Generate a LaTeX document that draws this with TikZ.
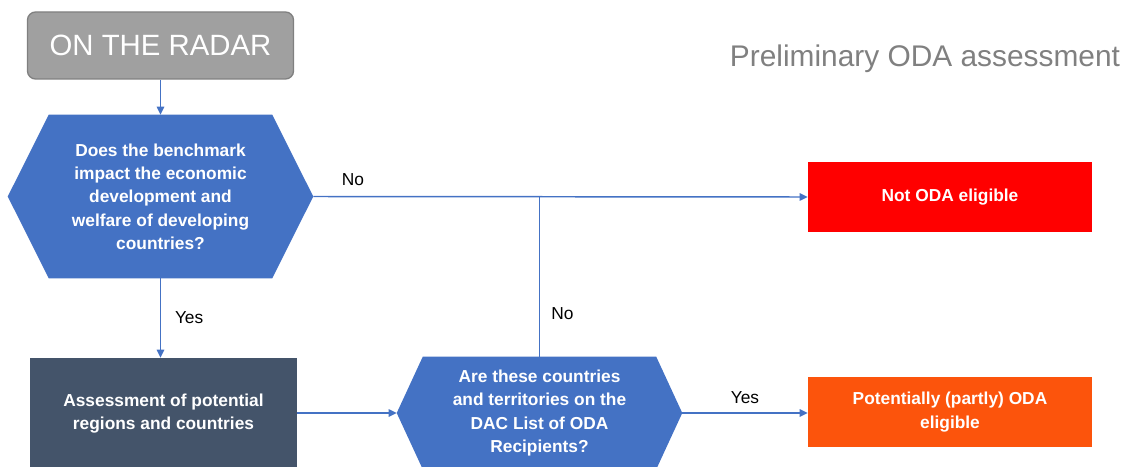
\documentclass[tikz,border=0pt]{standalone}
\usepackage{fontspec}
\setmainfont{Liberation Sans}
\usepackage{tikz}
\usepackage{xcolor}
\usetikzlibrary{arrows.meta,backgrounds,calc}

\definecolor{hexblue}{RGB}{68,114,196}
\definecolor{radargray}{RGB}{160,160,160}
\definecolor{radaredge}{RGB}{128,128,128}
\definecolor{slate}{RGB}{68,84,106}
\definecolor{oranger}{RGB}{252,84,12}
\definecolor{titlegray}{RGB}{128,128,128}

% hexagon fill behind a node, #2 = run of the slanted sides
\newcommand{\hexfill}[2]{\fill[hexblue] ($(#1.north west)+(#2,0)$) -- ($(#1.north east)-(#2,0)$) -- (#1.east) -- ($(#1.south east)-(#2,0)$) -- ($(#1.south west)+(#2,0)$) -- (#1.west) -- cycle;}

\begin{document}
\begin{tikzpicture}[x=0.75pt,y=-0.75pt,
    txt/.style={text=white, font=\fontsize{13}{17.5}\selectfont\bfseries, align=center, inner sep=0pt},
    hexq/.style={txt},
    outbox/.style={txt, minimum width=213pt, minimum height=52.5pt},
    flow/.style={draw=hexblue, line width=1.1pt, -{Triangle[length=6pt,width=5.5pt]}},
    lbl/.style={text=black, font=\fontsize{13}{15}\selectfont}]
  \useasboundingbox (0,0) rectangle (1127,467);

  \node (radar) at (160.5,45.5) [rounded corners=6pt, fill=radargray, draw=radaredge, line width=1pt,
      minimum width=199.5pt, minimum height=50.25pt, text=white, font=\fontsize{22}{24}\selectfont] {ON THE RADAR};
  \node (title) at (925,59) [text=titlegray, font=\fontsize{22.4}{26}\selectfont] {Preliminary ODA assessment};

  \node (q1) at (160.5,196.5) [hexq, minimum width=228.75pt, minimum height=122.25pt]
      {Does the benchmark\\impact the economic\\development and\\welfare of developing\\countries?};
  \node (notoda) at (950,197) [outbox, fill=red] {Not ODA eligible};
  \node (assess) at (163.5,413.5) [txt, fill=slate, minimum width=200.25pt, minimum height=83.25pt]
      {Assessment of potential\\regions and countries};
  \node (q2) at (539.5,413) [hexq, minimum width=213.75pt, minimum height=84pt]
      {Are these countries\\and territories on the\\DAC List of ODA\\Recipients?};
  \node (potoda) at (950,412) [outbox, fill=oranger] {Potentially (partly) ODA\\eligible};

  \begin{scope}[on background layer]
    \hexfill{q1}{41}
    \hexfill{q2}{26}
  \end{scope}

  \draw [flow] (radar) -- (q1);
  \draw [flow] (q1.east) -- (notoda.west) node [lbl, pos=0.08, above=4pt] {No};
  \draw [flow] (q1.south) -- (q1.south |- assess.north) node [lbl, midway, right=7pt] {Yes};
  \draw [flow] (assess.east |- q2.west) -- (q2.west);
  \draw [flow] (q2.east) -- (q2.east -| potoda.west) node [lbl, midway, above=3pt] {Yes};
  \draw [hexblue, line width=1.1pt] (q2.north) -- (q2.north |- q1.east) node [lbl, pos=0.27, right=5pt] {No};
\end{tikzpicture}
\end{document}
